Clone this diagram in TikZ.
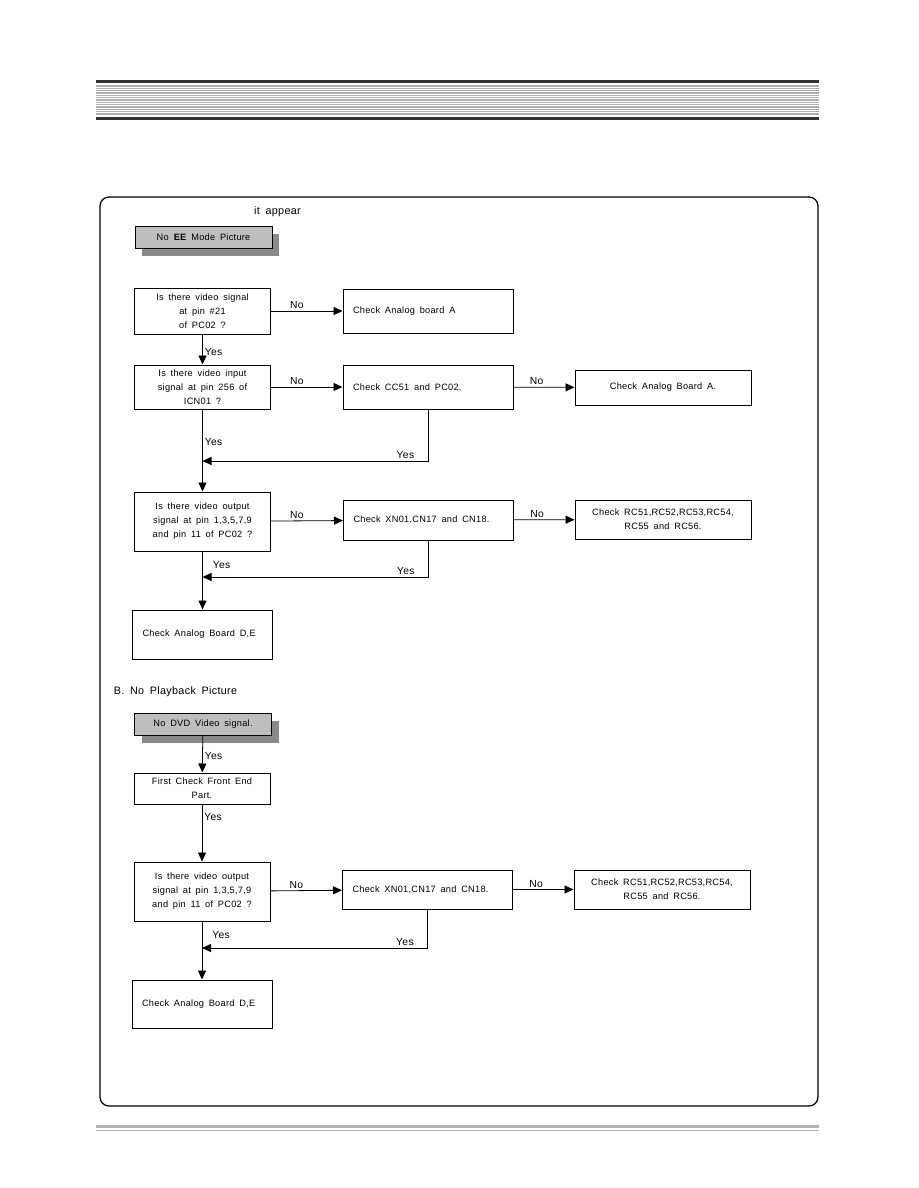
\documentclass[tikz,border=0pt]{standalone}
\usepackage{fontspec}
\setmainfont{Liberation Sans}[LetterSpace=3,WordSpace=1.7]
\usepackage{tikz}
\usetikzlibrary{arrows.meta,shadows}
\usetikzlibrary{positioning}
\definecolor{boxgray}{HTML}{BEBEBE}
\definecolor{shadegray}{HTML}{8A8A8A}
\definecolor{rulegray}{HTML}{B0B0B0}
\definecolor{bardark}{HTML}{333333}
\tikzset{
  flow/.style={draw, line width=1pt, inner ysep=0pt, font=\fontsize{9.2}{14}\selectfont},
  qbox/.style={flow, minimum width=136pt, align=center, minimum height=#1},
  checkbox/.style={flow, inner xsep=10pt, text width=150pt, align=flush left, minimum height=#1},
  endbox/.style={flow, inner xsep=10pt, text width=120pt, align=flush left, minimum height=#1},
  rbox/.style={flow, minimum width=176pt, align=center, minimum height=#1},
  startbox/.style={flow, fill=boxgray, minimum width=137pt, minimum height=22pt,
    drop shadow={shadow xshift=7pt, shadow yshift=-8pt, fill=shadegray, opacity=1}},
  title/.style={font=\fontsize{10.8}{12}\selectfont},
  lbl/.style={font=\fontsize{10.3}{12}\selectfont, inner sep=2pt},
  arr/.style={-{Triangle[length=9pt,width=8pt]}, line width=0.8pt}
}

\begin{document}
\begin{tikzpicture}[x=1pt, y=-1pt]
  \useasboundingbox[fill=white] (0,0) rectangle (918,1188);
  % page header and footer rules
  \fill[bardark] (96,80) rectangle (819,83);
  \foreach \k in {0,...,17}
    \draw[rulegray, line width=0.9pt] (96,85+1.75*\k) -- (819,85+1.75*\k);
  \fill[bardark] (96,117) rectangle (819,120);
  \fill[rulegray] (96,1125) rectangle (819,1127.5);
  \draw[rulegray, line width=1pt] (96,1130.5) -- (819,1130.5);
  % frame
  \draw[line width=1.3pt, rounded corners=9pt] (100,197) rectangle (818,1106);

  % part A
  \node[title] (hdA) at (277.5,212) {it appear};
  \node[startbox] (stA) at (203.5,237) {No \textbf{EE} Mode Picture};
  \node[qbox=46pt] (qA1) at (202.5,311) {Is there video signal\\ at pin \#21\\ of PC02 ?};
  \node[checkbox=44pt] (cA1) at (428,311) {Check Analog board A};
  \node[qbox=44pt] (qA2) at (202.5,387) {Is there video input\\ signal at pin 256 of\\ ICN01 ?};
  \node[checkbox=44pt] (cA2) at (428,387) {Check CC51 and PC02.};
  \node[rbox=35pt] (rA2) at (663,387.5) {Check Analog Board A.};
  \node[qbox=59pt] (qA3) at (202.5,521.5) {Is there video output\\ signal at pin 1,3,5,7,9\\ and pin 11 of PC02 ?};
  \node[checkbox=40pt] (cA3) at (428.5,520) {Check XN01,CN17 and CN18.};
  \node[rbox=39pt] (rA3) at (663,519.5) {Check RC51,RC52,RC53,RC54,\\ RC55 and RC56.};
  \node[endbox=49pt] (eA) at (202.5,634.5) {Check Analog Board D,E};
  \coordinate (jA1) at (202.5,461);
  \coordinate (jA2) at (202.5,577);

  \draw[arr] (qA1) -- node[lbl, pos=0.36, above]{No} (cA1);
  \draw[arr] (qA1) -- node[lbl, pos=0.6, right]{Yes} (qA2);
  \draw[arr] (qA2) -- node[lbl, pos=0.36, above]{No} (cA2);
  \draw[arr] (cA2) -- node[lbl, pos=0.38, above]{No} (rA2);
  \draw[arr] (cA2.south) |- node[lbl, pos=0.55, above]{Yes} (jA1);
  \draw[arr] (qA2) -- node[lbl, pos=0.4, right]{Yes} (qA3);
  \draw[arr] (qA3) -- node[lbl, pos=0.36, above]{No} (cA3);
  \draw[arr] (cA3) -- node[lbl, pos=0.38, above]{No} (rA3);
  \draw[arr] (cA3.south) |- node[lbl, pos=0.55, above]{Yes} (jA2);
  \draw[arr] (qA3) -- node[lbl, pos=0.24, right, xshift=8pt]{Yes} (eA);

  % part B
  \node[title] (hdB) at (175.5,692) {B. No Playback Picture};
  \node[startbox] (stB) at (203,724) {No DVD Video signal.};
  \node[qbox=31pt] (qB0) at (202,788.5) {First Check Front End\\ Part.};
  \node[qbox=59pt] (qB1) at (202,891.5) {Is there video output\\ signal at pin 1,3,5,7,9\\ and pin 11 of PC02 ?};
  \node[checkbox=39pt] (cB1) at (427.5,889.5) {Check XN01,CN17 and CN18.};
  \node[rbox=39pt] (rB1) at (662,889.5) {Check RC51,RC52,RC53,RC54,\\ RC55 and RC56.};
  \node[endbox=48pt] (eB) at (202,1004) {Check Analog Board D,E};
  \coordinate (jB1) at (202,948);

  \draw[arr] (stB) -- node[lbl, pos=0.55, right]{Yes} (qB0);
  \draw[arr] (qB0) -- node[lbl, pos=0.22, right]{Yes} (qB1);
  \draw[arr] (qB1) -- node[lbl, pos=0.36, above]{No} (cB1);
  \draw[arr] (cB1) -- node[lbl, pos=0.38, above]{No} (rB1);
  \draw[arr] (cB1.south) |- node[lbl, pos=0.55, above]{Yes} (jB1);
  \draw[arr] (qB1) -- node[lbl, pos=0.24, right, xshift=8pt]{Yes} (eB);
\end{tikzpicture}
\end{document}
